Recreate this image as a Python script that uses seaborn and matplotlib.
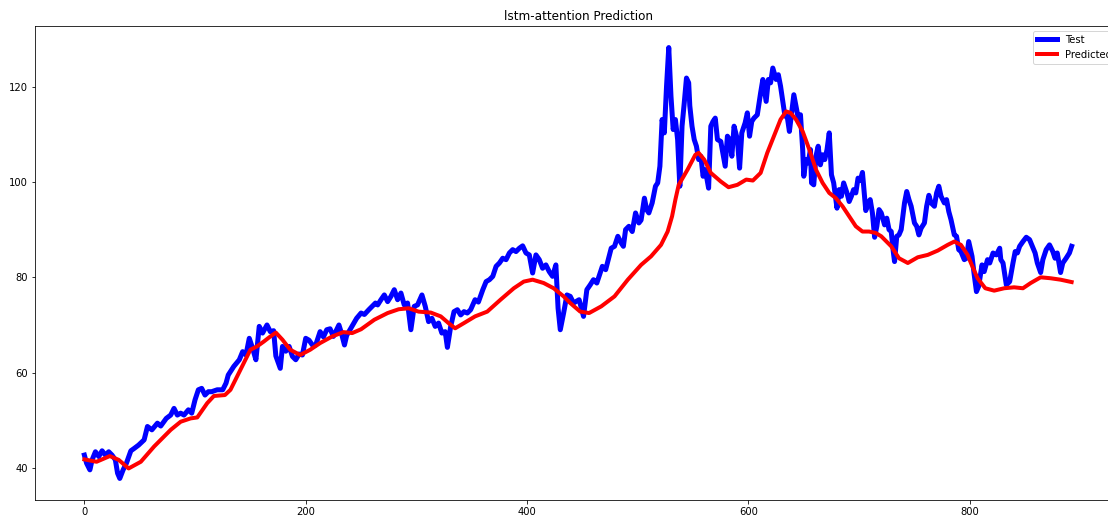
import matplotlib
matplotlib.use("Agg")
import matplotlib.pyplot as plt
import seaborn as sns

# Observed test series (time index, value)
test_idx = [0, 2, 5, 7, 10, 13, 16, 19, 22, 25, 28, 30, 32, 35, 38, 42, 45, 49, 54, 57,
            61, 66, 69, 74, 78, 81, 84, 87, 90, 94, 97, 100, 103, 106, 109, 112, 115, 120, 125, 128,
            130, 135, 140, 143, 146, 149, 152, 155, 158, 161, 165, 168, 171, 173, 177, 179, 182, 185, 188, 191,
            194, 197, 200, 203, 206, 209, 213, 216, 219, 222, 225, 230, 232, 235, 237, 240, 246, 250, 253, 257,
            260, 263, 265, 268, 271, 274, 277, 280, 283, 286, 289, 292, 295, 298, 301, 305, 308, 311, 314, 317,
            320, 323, 326, 328, 331, 334, 337, 340, 343, 346, 349, 353, 356, 360, 363, 366, 369, 372, 375, 378,
            381, 384, 387, 390, 393, 396, 399, 402, 405, 408, 411, 414, 417, 420, 423, 426, 428, 430, 433, 436,
            439, 442, 447, 451, 454, 457, 460, 463, 468, 471, 476, 479, 482, 485, 487, 489, 492, 495, 498, 501,
            503, 506, 508, 510, 513, 516, 518, 520, 522, 524, 526, 528, 530, 532, 534, 536, 538, 540, 542, 544,
            546, 547, 549, 551, 553, 555, 557, 559, 561, 564, 566, 568, 570, 572, 575, 579, 581, 583, 585, 587,
            590, 592, 594, 597, 599, 601, 603, 605, 608, 611, 613, 616, 618, 620, 622, 625, 627, 629, 631, 633,
            635, 637, 639, 641, 643, 645, 647, 649, 650, 652, 654, 656, 657, 659, 661, 663, 665, 667, 669, 671,
            673, 675, 677, 680, 682, 684, 686, 689, 691, 693, 695, 697, 699, 701, 703, 706, 708, 710, 712, 714,
            716, 718, 720, 723, 725, 727, 729, 731, 732, 734, 736, 738, 741, 743, 745, 747, 750, 752, 754, 756,
            759, 761, 763, 765, 768, 770, 772, 774, 777, 779, 781, 783, 786, 788, 790, 792, 795, 797, 799, 802,
            804, 806, 808, 811, 813, 816, 818, 821, 824, 827, 828, 830, 833, 836, 839, 841, 843, 845, 848, 851,
            854, 856, 859, 861, 864, 866, 869, 872, 875, 877, 879, 882, 884, 887, 890, 892]
test_val = [42.7, 41.0, 39.6, 41.7, 43.4, 42.4, 43.6, 42.7, 43.4, 42.7, 41.7, 38.9, 37.8, 39.6, 41.0, 43.6, 44.1, 44.8, 45.9, 48.7,
            48.0, 49.4, 48.8, 50.4, 51.1, 52.5, 51.1, 51.5, 51.1, 52.2, 51.5, 54.3, 56.4, 56.7, 55.3, 56.0, 56.0, 56.4, 56.4, 57.8,
            59.5, 61.3, 62.7, 64.4, 63.7, 67.2, 65.1, 62.7, 69.7, 68.3, 70.0, 68.6, 68.8, 63.5, 60.9, 65.5, 64.5, 65.5, 63.4, 62.7,
            63.9, 63.7, 67.2, 66.8, 65.8, 65.8, 68.6, 67.5, 69.0, 69.2, 67.6, 70.0, 68.5, 65.8, 67.8, 69.0, 71.4, 72.5, 72.2, 73.2,
            73.9, 74.6, 74.2, 75.3, 76.3, 74.9, 76.0, 77.4, 75.3, 76.7, 74.2, 74.6, 69.0, 73.9, 74.2, 76.3, 73.9, 70.7, 71.4, 69.7,
            70.4, 68.3, 68.6, 65.3, 69.7, 72.8, 73.2, 72.1, 72.8, 72.5, 73.2, 75.3, 74.8, 77.4, 79.1, 79.5, 80.2, 82.3, 83.0, 84.0,
            83.7, 85.1, 85.8, 85.4, 86.1, 86.6, 85.1, 84.7, 80.9, 84.7, 83.7, 81.9, 82.6, 81.2, 80.2, 82.6, 73.5, 69.0, 72.5, 76.3,
            76.0, 74.6, 75.3, 71.8, 77.4, 78.4, 79.5, 78.8, 82.3, 81.6, 86.1, 86.5, 88.6, 87.2, 86.5, 90.0, 90.7, 89.6, 93.5, 91.4,
            92.0, 96.6, 94.2, 93.5, 95.6, 99.1, 99.8, 103.3, 113.1, 110.3, 120.1, 128.2, 118.0, 111.0, 113.1, 108.9, 99.1, 111.7, 116.6, 121.8,
            120.8, 116.0, 111.7, 108.9, 107.5, 104.7, 105.4, 101.2, 102.6, 98.7, 111.7, 112.7, 113.4, 108.9, 108.5, 103.3, 109.6, 108.9, 105.4, 111.7,
            108.9, 102.9, 110.3, 112.4, 114.5, 109.6, 112.7, 113.4, 114.1, 118.7, 121.5, 116.9, 121.5, 120.8, 123.9, 121.5, 122.5, 120.1, 116.9, 113.8,
            113.8, 110.6, 114.5, 118.3, 115.9, 113.4, 114.1, 106.8, 101.2, 104.7, 104.0, 106.8, 99.8, 99.4, 105.4, 107.5, 103.6, 105.7, 104.7, 106.8,
            110.3, 101.5, 99.8, 94.5, 98.4, 97.0, 99.8, 97.7, 95.9, 97.0, 98.4, 97.7, 100.8, 100.3, 102.0, 94.0, 95.5, 96.3, 93.5, 88.4,
            90.7, 94.2, 93.5, 91.0, 92.4, 90.0, 89.6, 85.1, 83.3, 88.6, 88.9, 90.0, 95.6, 98.0, 96.3, 94.9, 91.4, 90.7, 88.9, 90.3,
            91.4, 94.9, 97.2, 95.6, 94.9, 97.7, 99.1, 97.0, 95.6, 96.3, 93.8, 92.1, 88.9, 88.6, 85.8, 85.4, 83.7, 84.0, 87.5, 84.4,
            80.5, 77.0, 78.1, 82.6, 81.2, 83.7, 83.0, 85.1, 84.7, 86.1, 83.7, 83.0, 78.4, 79.1, 83.0, 85.4, 85.1, 86.5, 87.5, 88.4,
            87.9, 86.8, 85.1, 83.0, 81.0, 83.7, 85.8, 86.8, 85.4, 84.0, 85.1, 81.0, 83.0, 84.0, 85.1, 86.5]

# Model output (time index, value)
pred_idx = [0, 11, 23, 31, 40, 51, 63, 72, 78, 87, 96, 102, 111, 117, 127, 132, 141, 150, 156, 162,
            167, 173, 179, 186, 195, 204, 213, 224, 234, 242, 250, 262, 274, 284, 293, 302, 313, 322, 329, 335,
            343, 353, 364, 376, 388, 397, 405, 415, 424, 433, 439, 448, 456, 467, 479, 491, 503, 512, 521, 527,
            531, 534, 537, 545, 552, 555, 560, 566, 575, 582, 590, 598, 604, 611, 617, 623, 629, 634, 638, 643,
            649, 655, 661, 667, 673, 679, 685, 691, 697, 703, 709, 715, 720, 729, 736, 744, 753, 762, 771, 780,
            786, 792, 798, 801, 807, 814, 822, 831, 840, 848, 855, 864, 873, 882, 892]
pred_val = [41.8, 41.3, 42.5, 41.7, 39.9, 41.3, 44.5, 46.6, 48.0, 49.7, 50.4, 50.6, 53.6, 55.1, 55.3, 56.4, 60.6, 64.8, 65.5, 66.5,
            67.4, 68.4, 66.9, 64.8, 63.7, 64.8, 66.2, 67.6, 68.5, 68.3, 69.1, 71.1, 72.5, 73.3, 73.5, 72.8, 72.6, 71.8, 70.4, 69.3,
            70.4, 71.8, 72.8, 75.3, 77.7, 79.1, 79.5, 78.8, 77.7, 76.0, 74.6, 72.8, 72.5, 73.9, 76.0, 79.5, 82.6, 84.4, 86.8, 89.6,
            92.8, 96.3, 99.4, 102.6, 105.7, 106.1, 104.7, 101.9, 100.1, 98.9, 99.4, 100.5, 100.3, 101.9, 106.1, 109.6, 113.1, 114.8, 114.5, 113.1,
            110.6, 106.8, 102.6, 99.8, 97.7, 96.6, 94.9, 92.8, 90.7, 89.6, 89.6, 89.3, 88.6, 86.5, 84.0, 83.0, 84.2, 84.7, 85.6, 86.8,
            87.5, 86.8, 84.7, 83.0, 79.8, 77.7, 77.2, 77.7, 77.9, 77.7, 78.8, 80.0, 79.8, 79.5, 79.0]

title = "lstm-attention Prediction"

W, H, DPI = 1108, 521, 72
fig = plt.figure(figsize=(W / DPI, H / DPI), dpi=DPI)
fig.patch.set_facecolor("white")
# axes run slightly past the right edge of the canvas
ax = fig.add_axes([35 / W, 21 / H, 1086 / W, 474 / H])

sns.lineplot(x=test_idx, y=test_val, ax=ax, color="blue", linewidth=5,
             label="Test", estimator=None, sort=False)
sns.lineplot(x=pred_idx, y=pred_val, ax=ax, color="red", linewidth=4,
             label="Predicted", estimator=None, sort=False)

ax.set_title(title)
ax.set_xticks([0, 200, 400, 600, 800])
ax.set_yticks([40, 60, 80, 100, 120])
ax.legend(loc="upper right")

fig.savefig("out.png", dpi=DPI, facecolor="white")
